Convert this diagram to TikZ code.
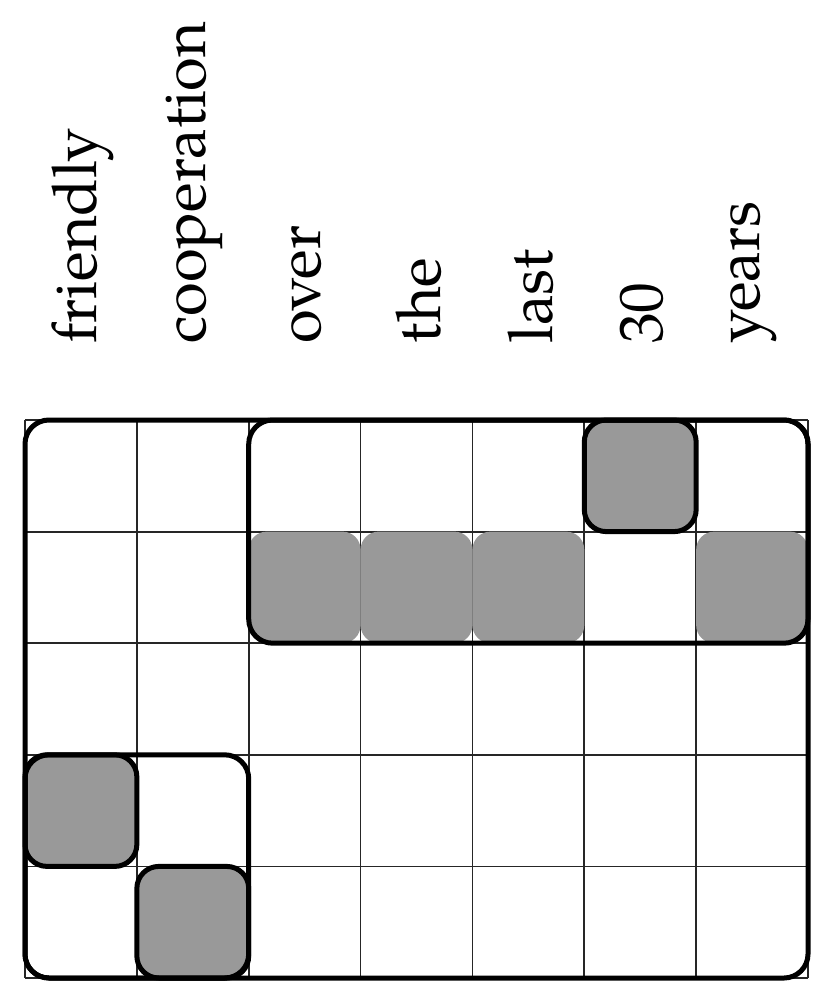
\documentclass[tikz,border=0pt]{standalone}
\usepackage{fontspec}
\setmainfont{TeX Gyre Pagella}
\begin{document}
\begin{tikzpicture}[x=1pt,y=-1pt,
  gridline/.style={line width=1.8pt, black!85},
  frame/.style={line width=5pt, rounded corners=24pt},
  cellfill/.style={fill=black!40, rounded corners=18pt},
  cellbox/.style={fill=black!40, draw=black, line width=5pt, rounded corners=22pt},
  word/.style={rotate=90, anchor=west, inner sep=0pt, font=\fontsize{61.5}{70}\selectfont}]
\useasboundingbox (0,0) rectangle (820,994);
% grid points
\foreach \i in {0,...,7}{
  \foreach \j in {0,...,5}{
    \coordinate (p-\i-\j) at ({25+\i*111.86},{420+\j*111.6});
  }
}
% thin grid
\foreach \i in {0,...,7} \draw[gridline] (p-\i-0) -- (p-\i-5);
\foreach \j in {0,...,5} \draw[gridline] (p-0-\j) -- (p-7-\j);
% gray cells without border
\fill[cellfill] (p-2-1) rectangle (p-3-2);
\fill[cellfill] (p-3-1) rectangle (p-4-2);
\fill[cellfill] (p-4-1) rectangle (p-5-2);
\fill[cellfill] (p-6-1) rectangle (p-7-2);
% gray cells with border
\draw[cellbox] (p-5-0) rectangle (p-6-1);
\draw[cellbox] (p-0-3) rectangle (p-1-4);
\draw[cellbox] (p-1-4) rectangle (p-2-5);
% frames
\draw[frame] (p-0-0) rectangle (p-7-5);
\draw[frame] (p-2-0) rectangle (p-7-2);
\draw[frame] (p-0-3) rectangle (p-2-5);
% words
\foreach \w [count=\k from 0] in {friendly,cooperation,over,the,last,30,years}{
  \node[word] (w\k) at ({25+(\k+0.5)*111.86+2},344) {\w};
}
\end{tikzpicture}
\end{document}
